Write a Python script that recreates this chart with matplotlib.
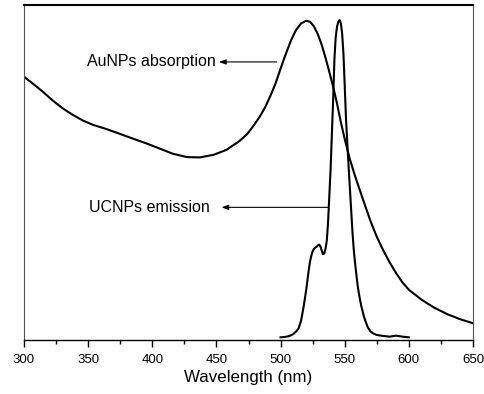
import matplotlib
matplotlib.use("Agg")
import matplotlib.pyplot as plt
from matplotlib.ticker import MultipleLocator

plt.rcParams['font.family'] = ['Liberation Sans', 'DejaVu Sans']

# AuNPs absorption (normalised)
abs_wl = [300, 307, 315, 322, 330, 338, 346, 354, 364, 375, 385, 396, 406, 416, 427,
          437, 448, 458, 468, 474, 479, 484, 488, 492, 496, 500, 504, 508, 512, 516,
          520, 523, 526, 529, 532, 535, 538, 541, 544, 547, 550, 554, 558, 562, 566,
          570, 575, 580, 585, 590, 595, 600, 610, 620, 630, 640, 650]
abs_val = [0.786, 0.765, 0.740, 0.716, 0.692, 0.672, 0.655, 0.642, 0.630, 0.615, 0.601,
           0.586, 0.571, 0.556, 0.546, 0.545, 0.553, 0.568, 0.594, 0.615, 0.640, 0.668,
           0.695, 0.728, 0.765, 0.81, 0.853, 0.893, 0.925, 0.945, 0.953, 0.95, 0.936,
           0.913, 0.882, 0.843, 0.80, 0.756, 0.706, 0.650, 0.600, 0.540, 0.490, 0.445,
           0.400, 0.356, 0.308, 0.268, 0.232, 0.20, 0.172, 0.15, 0.12, 0.096, 0.077,
           0.062, 0.05]

# UCNPs emission (normalised)
em_wl = [500, 503, 506, 508, 510, 512, 514, 516, 518, 520, 521, 522, 523, 524, 525,
         526, 527, 528, 529, 530, 531, 532, 533, 534, 535, 536, 537, 538, 539, 540,
         541, 542, 543, 544, 545, 546, 547, 548, 549, 550, 551, 552, 553, 554, 555,
         556, 557, 558, 559, 560, 561, 562, 563, 564, 565, 566, 568, 570, 572, 575,
         580, 585, 590, 595, 600]
em_val = [0.008, 0.009, 0.011, 0.014, 0.018, 0.025, 0.034, 0.058, 0.10, 0.15, 0.18,
          0.21, 0.235, 0.252, 0.265, 0.272, 0.276, 0.278, 0.282, 0.285, 0.28, 0.268,
          0.256, 0.258, 0.272, 0.295, 0.35, 0.43, 0.51, 0.615, 0.72, 0.84, 0.905, 0.935,
          0.95, 0.955, 0.945, 0.915, 0.855, 0.76, 0.66, 0.59, 0.52, 0.455, 0.39, 0.325,
          0.272, 0.232, 0.198, 0.165, 0.14, 0.119, 0.10, 0.085, 0.07, 0.058, 0.038,
          0.026, 0.02, 0.015, 0.012, 0.01, 0.013, 0.01, 0.008]

fig = plt.figure(figsize=(4.85, 3.94), dpi=100)
ax = fig.add_axes([24 / 485, 54 / 394, 449 / 485, 335 / 394])

ax.plot(abs_wl, abs_val, color='k', lw=1.5)
ax.plot(em_wl, em_val, color='k', lw=1.5)

ax.set_xlim(300, 650)
ax.set_ylim(0, 1)
ax.xaxis.set_major_locator(MultipleLocator(50))
ax.xaxis.set_minor_locator(MultipleLocator(25))
ax.tick_params(axis='x', which='major', direction='out', length=5, width=1,
               labelsize=9.5, pad=5)
ax.tick_params(axis='x', which='minor', direction='out', length=3, width=1)
ax.set_yticks([])
ax.set_xlabel('Wavelength (nm)', fontsize=12.2, labelpad=3)

ax.spines['top'].set_linewidth(1.5)
ax.spines['bottom'].set_linewidth(1.0)
ax.spines['left'].set_linewidth(0.8)
ax.spines['left'].set_color('#555555')
ax.spines['right'].set_linewidth(0.8)
ax.spines['right'].set_color('#555555')

arrow = dict(arrowstyle='-|>,head_length=0.4,head_width=0.15', lw=0.8, color='k',
             shrinkA=0, shrinkB=0)
ax.text(349, 0.83, 'AuNPs absorption', fontsize=11.5, va='center', ha='left')
ax.annotate('', xy=(452, 0.83), xytext=(497, 0.83), arrowprops=arrow)
ax.text(351, 0.396, 'UCNPs emission', fontsize=11.5, va='center', ha='left')
ax.annotate('', xy=(454, 0.396), xytext=(537, 0.396), arrowprops=arrow)

fig.savefig('out.png', dpi=100)
